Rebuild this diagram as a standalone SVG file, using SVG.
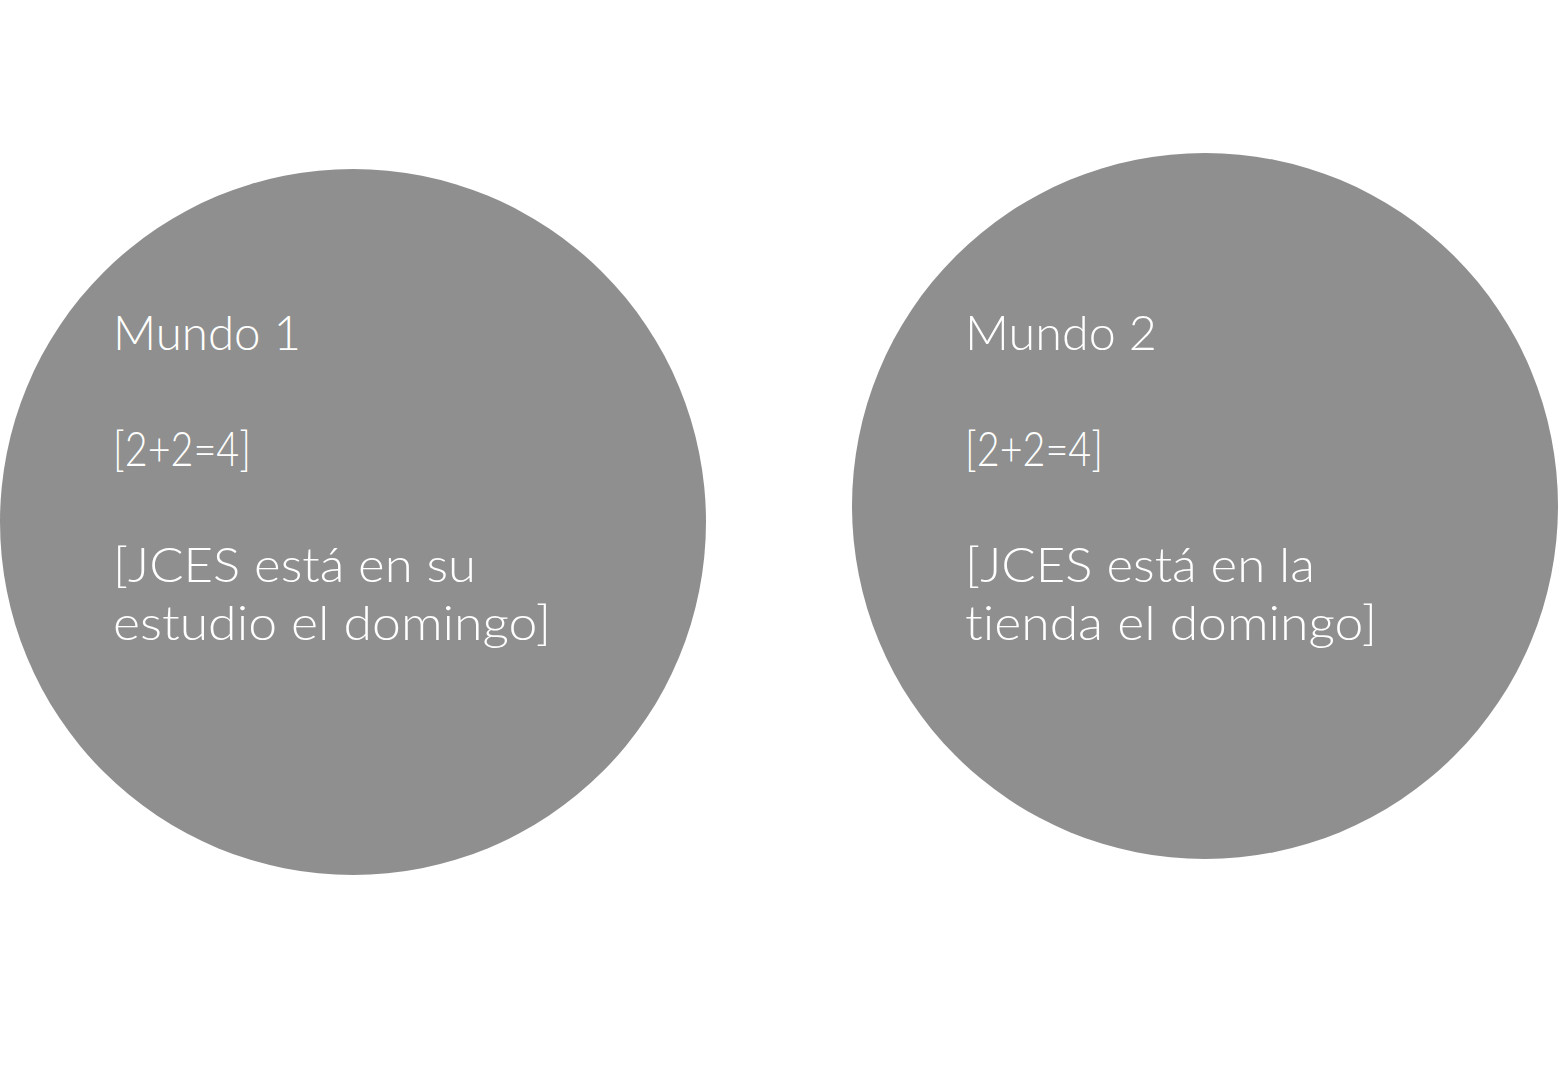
<svg xmlns="http://www.w3.org/2000/svg" width="1560" height="1068" viewBox="0 0 1560 1068">
<style>
.c{fill:#8e8f8e}
.t{font-family:Lato,"Noto Sans","Liberation Sans",sans-serif;font-weight:300;font-size:48px;fill:#ffffff;font-variant-ligatures:none}
</style>
<rect width="1560" height="1068" fill="#ffffff"/>
<g id="mundo1">
<circle class="c" cx="353" cy="522" r="353"/>
<text class="t" x="113" y="350" textLength="188" lengthAdjust="spacingAndGlyphs">Mundo 1</text>
<text class="t" x="113" y="466" textLength="138" lengthAdjust="spacingAndGlyphs">[2+2=4]</text>
<text class="t" x="113" y="582" textLength="363" lengthAdjust="spacingAndGlyphs">[JCES está en su</text>
<text class="t" x="113" y="640" textLength="438" lengthAdjust="spacingAndGlyphs">estudio el domingo]</text>
</g>
<g id="mundo2">
<circle class="c" cx="1205" cy="506" r="353"/>
<text class="t" x="965" y="350" textLength="192" lengthAdjust="spacingAndGlyphs">Mundo 2</text>
<text class="t" x="965" y="466" textLength="138" lengthAdjust="spacingAndGlyphs">[2+2=4]</text>
<text class="t" x="965" y="582" textLength="350" lengthAdjust="spacingAndGlyphs">[JCES está en la</text>
<text class="t" x="965" y="640" textLength="412" lengthAdjust="spacingAndGlyphs">tienda el domingo]</text>
</g>
<g id="connectors"></g>
</svg>
